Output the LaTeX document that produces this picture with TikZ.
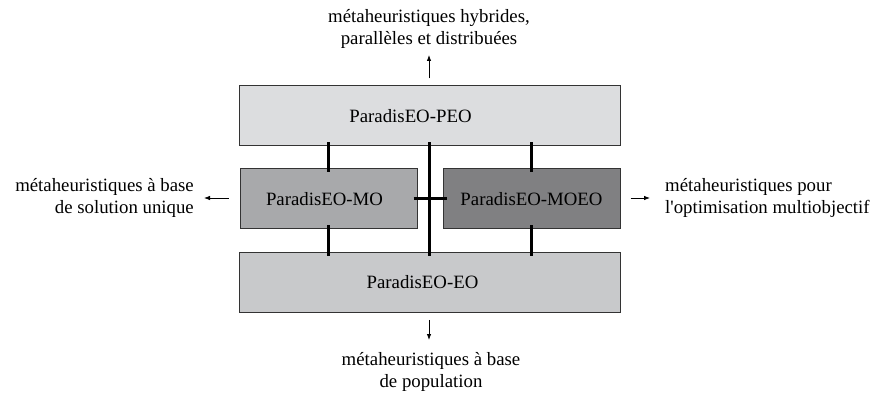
\documentclass[tikz,border=0pt]{standalone}
\usepackage{fontspec}
\setmainfont{Liberation Serif}
\usetikzlibrary{arrows.meta}
\definecolor{peogray}{HTML}{DCDDDF}
\definecolor{mogray}{HTML}{A8A9AB}
\definecolor{moeogray}{HTML}{808082}
\definecolor{eogray}{HTML}{C8C9CB}
\tikzset{box/.style={draw=black!80, line width=1pt, minimum height=60pt, inner sep=0pt},
link/.style={line width=3pt, shorten <=-4pt, shorten >=-4pt},
pointer/.style={-{Latex[length=6pt,width=4.5pt]}, line width=0.8pt},
note/.style={font=\fontsize{18.8}{22.5}\selectfont, inner sep=0pt}}

\begin{document}
\begin{tikzpicture}[x=1pt,y=1pt]
\useasboundingbox (0,0) rectangle (877,396);

\node[box, fill=peogray, minimum width=381pt,
  label={[note, xshift=-19pt]center:ParadisEO-PEO}] (peo) at (429.5,280) {};
\node[box, fill=mogray, minimum width=177pt,
  label={[note, xshift=-4pt]center:ParadisEO-MO}] (mo) at (328.5,197) {};
\node[box, fill=moeogray, minimum width=177pt,
  label={[note]center:ParadisEO-MOEO}] (moeo) at (531.5,197) {};
\node[box, fill=eogray, minimum width=381pt,
  label={[note, xshift=-7pt]center:ParadisEO-EO}] (eo) at (429.5,113.5) {};

% liens entre les modules
\draw[link] (peo.south -| mo.north) -- (mo.north);
\draw[link] (peo.south -| moeo.north) -- (moeo.north);
\draw[link] (mo.south) -- (eo.north -| mo.south);
\draw[link] (moeo.south) -- (eo.north -| moeo.south);
\draw[link] (peo.south) -- (eo.north);
\draw[link] (mo.east) -- (moeo.west);

\node[note, align=center] (hybr) at (429,367) {métaheuristiques hybrides,\\parallèles et distribuées};
\node[note, align=right, anchor=east] (solu) at (194,198) {métaheuristiques à base\\de solution unique};
\node[note, align=left, anchor=west] (multi) at (665,198) {métaheuristiques pour\\l\textquotesingle optimisation multiobjectif};
\node[note, align=center] (popu) at (431,24) {métaheuristiques à base\\de population};

\coordinate (hybrtip) at (429,341);
\coordinate (solutip) at (204,198);
\coordinate (multitip) at (650,198);
\coordinate (poputip) at (429,56);

\draw[pointer, shorten <=7pt] (peo.north -| hybrtip) -- (hybrtip);
\draw[pointer, shorten <=11pt] (mo.west |- solutip) -- (solutip);
\draw[pointer, shorten <=10pt] (moeo.east |- multitip) -- (multitip);
\draw[pointer, shorten <=7pt] (eo.south -| poputip) -- (poputip);

\end{tikzpicture}
\end{document}
